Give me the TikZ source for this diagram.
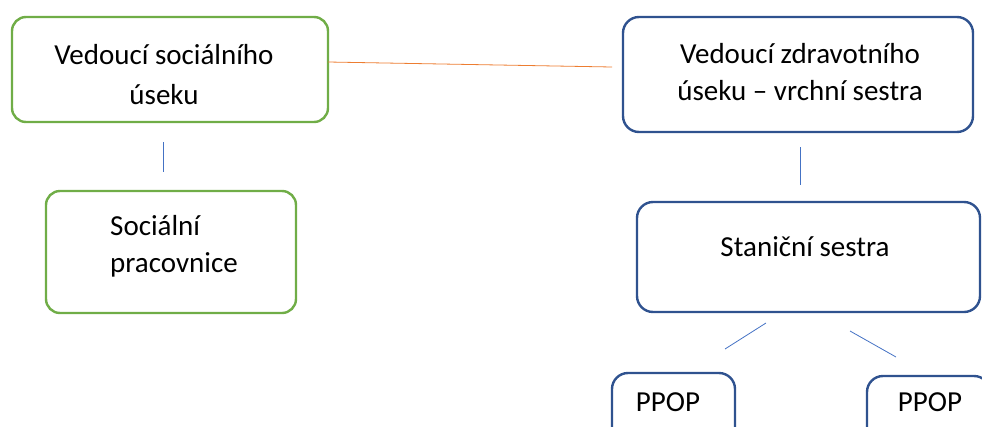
\documentclass[tikz,border=0pt]{standalone}
\usepackage{fontspec}
\setmainfont{Carlito}
\definecolor{socgreen}{HTML}{70AD47}
\definecolor{zdrblue}{HTML}{2F528F}
\definecolor{linkblue}{HTML}{4472C4}
\definecolor{linkorange}{HTML}{ED7D31}
\tikzset{
  gbox/.style={draw=socgreen, line width=2.4pt, rounded corners=14pt, inner sep=0pt},
  bbox/.style={draw=zdrblue, line width=2.4pt, rounded corners=16pt, inner sep=0pt},
  txt/.style={font=\fontsize{29}{37}\selectfont, align=center, inner sep=0pt},
  link/.style={draw=linkblue, line width=0.8pt},
}
\begin{document}
\begin{tikzpicture}[x=1pt, y=-1pt]
        \useasboundingbox (0,0) rectangle (982,426);
        \clip (0,0) rectangle (982,426);
        % social side
        \node [gbox, minimum width=316, minimum height=105] (vedsoc) at (170,69.5) {};
        \node [txt, font=\fontsize{29}{40}\selectfont] (vedsoctxt) at (164,75) {Vedoucí sociálního\\úseku};
        \node [gbox, minimum width=250, minimum height=122] (socprac) at (171,252) {};
        \node [txt, align=left, anchor=west] (socpractxt) at (110,246) {Sociální\\pracovnice};
        % health side
        \node [bbox, minimum width=350, minimum height=115] (vedzdr) at (798,74.5) {};
        \node [txt] (vedzdrtxt) at (800,72) {Vedoucí zdravotního\\úseku -- vrchní sestra};
        \node [bbox, minimum width=343, minimum height=110] (stan) at (808.5,257) {};
        \node [txt] (stantxt) at (805,247) {Staniční sestra};
        \node [bbox, minimum width=123, minimum height=100] (ppopa) at (673.5,423) {};
        \node [txt] (ppopatxt) at (668,402) {PPOP};
        \node [bbox, minimum width=123, minimum height=100] (ppopb) at (928.5,426) {};
        \node [txt] (ppopbtxt) at (930,402) {PPOP};
        % connectors
        \coordinate (or1) at (328,62);
        \coordinate (or2) at (612,67);
        \coordinate (sv1) at (163,142);
        \coordinate (sv2) at (163,172);
        \coordinate (zv1) at (800,147);
        \coordinate (zv2) at (800,185);
        \coordinate (da1) at (766,323);
        \coordinate (da2) at (725,349);
        \coordinate (db1) at (850,331);
        \coordinate (db2) at (896,357);
        \draw [draw=linkorange, line width=0.8pt] (or1) -- (or2);
        \draw [link] (sv1) -- (sv2);
        \draw [link] (zv1) -- (zv2);
        \draw [link] (da1) -- (da2);
        \draw [link] (db1) -- (db2);
\end{tikzpicture}
\end{document}
